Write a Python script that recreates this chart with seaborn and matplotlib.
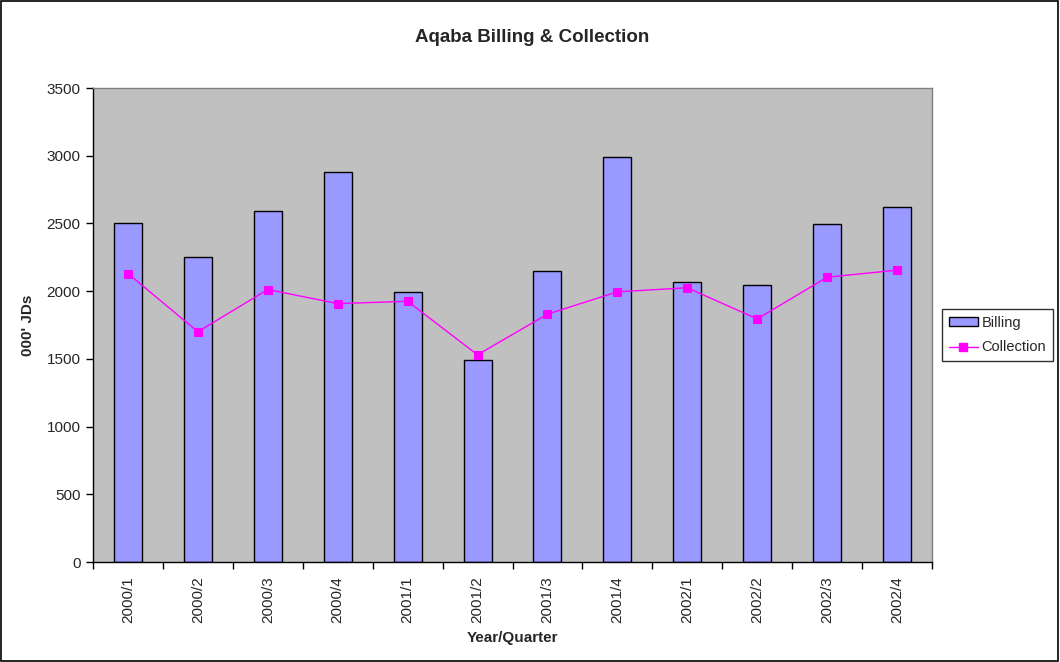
import matplotlib
matplotlib.use("Agg")
import matplotlib.pyplot as plt
import seaborn as sns
import pandas as pd
from matplotlib.patches import Rectangle, Patch
from matplotlib.lines import Line2D

quarters = ["2000/1", "2000/2", "2000/3", "2000/4",
            "2001/1", "2001/2", "2001/3", "2001/4",
            "2002/1", "2002/2", "2002/3", "2002/4"]
billing = [2500, 2255, 2590, 2880, 1995, 1490, 2150, 2990, 2065, 2045, 2495, 2625]
collection = [2130, 1700, 2012, 1908, 1925, 1530, 1830, 1995, 2025, 1795, 2103, 2155]
y_ticks = [0, 500, 1000, 1500, 2000, 2500, 3000, 3500]

df = pd.DataFrame({"Quarter": quarters, "Billing": billing, "Collection": collection})

sns.set_theme(style="white")
plt.rcParams["font.family"] = ["Liberation Sans", "DejaVu Sans"]

fig = plt.figure(figsize=(10.6, 6.62), dpi=100)
ax = fig.add_axes([93 / 1060, 1 - 562 / 662, (932 - 93) / 1060, (562 - 88) / 662])
ax.set_facecolor("#C0C0C0")

bar_color = "#9999FF"
line_color = "#FF00FF"

sns.barplot(data=df, x="Quarter", y="Billing", color=bar_color, width=0.4,
            edgecolor="black", linewidth=1, saturation=1, ax=ax)
sns.pointplot(data=df, x="Quarter", y="Collection", color=line_color,
              markers="s", markersize=5.5, linewidth=1, ax=ax)

ax.set_ylim(0, 3500)
ax.set_yticks(y_ticks)
ax.set_yticklabels([str(v) for v in y_ticks], fontsize=11)
ax.set_xlim(-0.5, len(quarters) - 0.5)
ax.set_xticks(range(len(quarters)))
ax.set_xticklabels(quarters, rotation=90, fontsize=11)
ax.tick_params(axis="x", which="major", length=0, pad=10)
ax.set_xticks([i - 0.5 for i in range(len(quarters) + 1)], minor=True)
ax.tick_params(axis="x", which="minor", length=5, width=1, color="black", direction="out", bottom=True)
ax.tick_params(axis="y", length=5, width=1, color="black", direction="out", left=True, pad=4)

ax.set_xlabel("Year/Quarter", fontsize=11, fontweight="bold", labelpad=6)
ax.set_ylabel("000' JDs", fontsize=11, fontweight="bold", labelpad=8)
# Chart title is centred on the whole figure rather than on the plot area
ax.set_title("Aqaba Billing & Collection", fontsize=13.5, fontweight="bold",
             pad=33, x=(532 - 93) / (932 - 93))

for side in ("left", "bottom"):
    ax.spines[side].set_color("black")
    ax.spines[side].set_linewidth(1)
for side in ("top", "right"):
    ax.spines[side].set_color("#808080")
    ax.spines[side].set_linewidth(1)
    ax.spines[side].set_visible(True)

handles = [
    Patch(facecolor=bar_color, edgecolor="black", linewidth=1),
    Line2D([0], [0], color=line_color, linewidth=1, marker="s", markersize=5.5),
]
leg = fig.legend(handles, ["Billing", "Collection"], loc="center left",
                 bbox_to_anchor=(942 / 1060, 1 - 335 / 662), fontsize=10.5,
                 frameon=True, fancybox=False, edgecolor="black",
                 handlelength=2.0, handleheight=0.6, borderpad=0.45,
                 labelspacing=0.75, handletextpad=0.25, borderaxespad=0)
leg.get_frame().set_linewidth(1)

fig.patches.append(Rectangle((0.0005, 0.0008), 0.998, 0.998, transform=fig.transFigure,
                             fill=False, edgecolor="black", linewidth=1.2))

fig.savefig("out.png", dpi=100)
